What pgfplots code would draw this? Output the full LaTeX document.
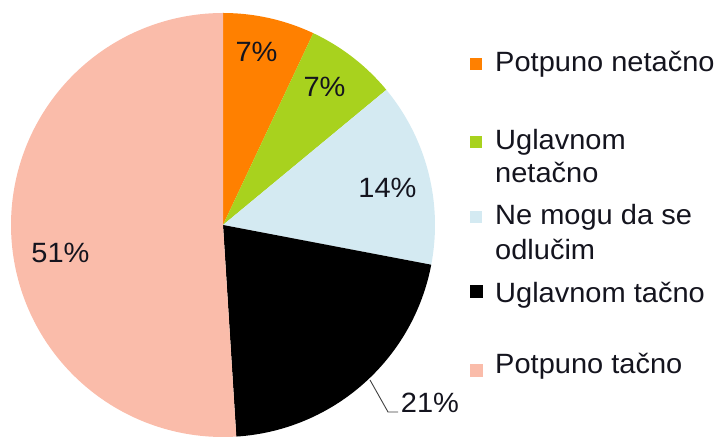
\documentclass[border=0pt]{standalone}
\usepackage{fontspec}
\setmainfont{Liberation Sans}
\newfontfamily\lbfont[FakeStretch=1.04]{Liberation Sans}
\usepackage{pgfplots}
\pgfplotsset{compat=1.18}

\definecolor{cOrange}{RGB}{255,128,0}
\definecolor{cGreen}{RGB}{168,210,30}
\definecolor{cBlue}{RGB}{212,234,242}
\definecolor{cBlack}{RGB}{0,0,0}
\definecolor{cSalmon}{RGB}{250,188,170}
\definecolor{cText}{RGB}{20,20,30}

% shares in percent, clockwise from 12 o'clock
\def\pA{7}
\def\pB{7}
\def\pC{14}
\def\pD{21}
\def\pE{51}
\pgfmathsetmacro\aA{90}
\pgfmathsetmacro\aB{\aA-3.6*\pA}
\pgfmathsetmacro\aC{\aB-3.6*\pB}
\pgfmathsetmacro\aD{\aC-3.6*\pC}
\pgfmathsetmacro\aE{\aD-3.6*\pD}
\pgfmathsetmacro\aF{\aE-3.6*\pE}
\newcommand\cx{223}
\newcommand\cy{212}
\newcommand\rr{212}

\begin{document}
\begin{tikzpicture}[lbl/.style={font=\lbfont\fontsize{28}{32}\selectfont, text=cText, inner sep=0pt}]
\begin{axis}[
  x=1bp, y=1bp,
  xmin=0, xmax=723, ymin=0, ymax=437,
  hide axis, clip=false,
]
  \coordinate (ll) at (axis cs:0,0);
  \coordinate (ur) at (axis cs:723,437);
  \addplot[fill=cOrange, draw=none, domain=\aB:\aA, samples=40, variable=\t]
    ({\cx+\rr*cos(\t)}, {\cy+\rr*sin(\t)}) -- (axis cs:\cx,\cy) -- cycle;
  \addplot[fill=cGreen, draw=none, domain=\aC:\aB, samples=40, variable=\t]
    ({\cx+\rr*cos(\t)}, {\cy+\rr*sin(\t)}) -- (axis cs:\cx,\cy) -- cycle;
  \addplot[fill=cBlue, draw=none, domain=\aD:\aC, samples=60, variable=\t]
    ({\cx+\rr*cos(\t)}, {\cy+\rr*sin(\t)}) -- (axis cs:\cx,\cy) -- cycle;
  \addplot[fill=cBlack, draw=none, domain=\aE:\aD, samples=80, variable=\t]
    ({\cx+\rr*cos(\t)}, {\cy+\rr*sin(\t)}) -- (axis cs:\cx,\cy) -- cycle;
  \addplot[fill=cSalmon, draw=none, domain=\aF:\aE, samples=150, variable=\t]
    ({\cx+\rr*cos(\t)}, {\cy+\rr*sin(\t)}) -- (axis cs:\cx,\cy) -- cycle;

  % slice labels
  \node[lbl, anchor=base] at (axis cs:256.5,375) {7\%};
  \node[lbl, anchor=base] at (axis cs:324.5,340) {7\%};
  \node[lbl, anchor=base] at (axis cs:387.5,239) {14\%};
  \node[lbl, anchor=base] at (axis cs:60.5,174) {51\%};
  \node[lbl, anchor=base] at (axis cs:430,24) {21\%};
  \draw[black!75, line width=0.9pt] (axis cs:370,57) -- (axis cs:388,25) -- (axis cs:398,25);

  % legend
  \fill[cOrange] (axis cs:470,367) rectangle (axis cs:482,379);
  \node[lbl, anchor=base west] at (axis cs:495,365) {Potpuno netačno};
  \fill[cGreen] (axis cs:470,289) rectangle (axis cs:482,301);
  \node[lbl, anchor=base west] at (axis cs:495,287) {Uglavnom};
  \node[lbl, anchor=base west] at (axis cs:495,254) {netačno};
  \fill[cBlue] (axis cs:470,214) rectangle (axis cs:482,226);
  \node[lbl, anchor=base west] at (axis cs:495,212) {Ne mogu da se};
  \node[lbl, anchor=base west] at (axis cs:495,177) {odlučim};
  \fill[cBlack] (axis cs:470,139) rectangle (axis cs:483,152);
  \node[lbl, anchor=base west] at (axis cs:495,134) {Uglavnom tačno};
  \fill[cSalmon] (axis cs:470,60) rectangle (axis cs:483,73);
  \node[lbl, anchor=base west] at (axis cs:495,63) {Potpuno tačno};
\end{axis}
\pgfresetboundingbox
\path[use as bounding box] (ll) rectangle (ur);
\end{tikzpicture}
\end{document}
